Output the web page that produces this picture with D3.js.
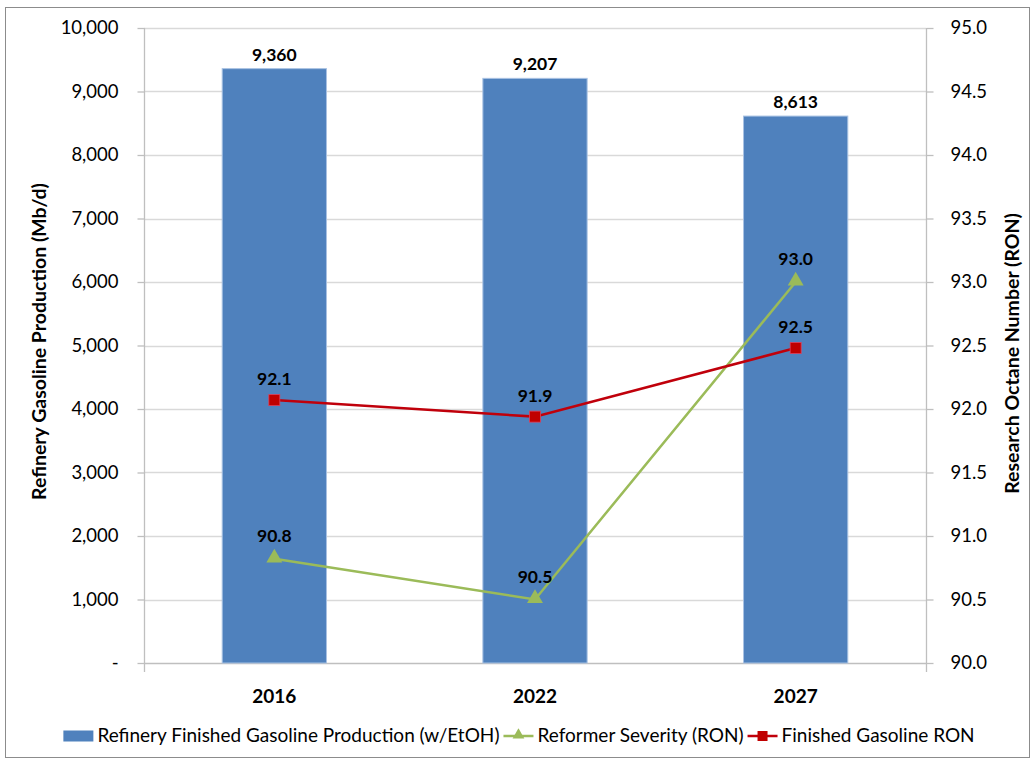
<!DOCTYPE html>
<html>
<head>
<meta charset="utf-8">
<script src="https://cdn.jsdelivr.net/npm/d3@7"></script>
<style>
  body { margin: 0; background: #fff; }
  svg text { font-family: Lato, "Open Sans", sans-serif; fill: #000; }
</style>
</head>
<body>
<div id="chart"></div>
<script>
// data
var years = ["2016", "2022", "2027"];
var production = [9360, 9207, 8613];          // Mb/d, bars (left axis)
var reformerRON = [90.82, 90.50, 93.00];      // green line (right axis)
var finishedRON = [92.07, 91.94, 92.48];      // red line (right axis)
var leftTicks = [0, 1000, 2000, 3000, 4000, 5000, 6000, 7000, 8000, 9000, 10000];
var rightTicks = [90, 90.5, 91, 91.5, 92, 92.5, 93, 93.5, 94, 94.5, 95];
var legendNames = ["Refinery Finished Gasoline Production (w/EtOH)", "Reformer Severity (RON)", "Finished Gasoline RON"];

var W = 1033, H = 762;
var plot = {left: 144, right: 926, top: 28, bottom: 663};

var svg = d3.select("#chart").append("svg").attr("width", W).attr("height", H)

// outer frame
svg.append("rect").attr("x", 5.5).attr("y", 7.5).attr("width", 1024).attr("height", 750)
    .attr("fill", "#fff").attr("stroke", "#8c8c8c").attr("stroke-width", 1)

var x = d3.scaleBand().domain(years).range([plot.left, plot.right]).padding(0)
var yL = d3.scaleLinear().domain([0, 10000]).range([plot.bottom, plot.top])
var yR = d3.scaleLinear().domain([90, 95]).range([plot.bottom, plot.top])

var fmt = d3.format(",")

// gridlines
svg.append("g").selectAll("line").data(leftTicks.slice(1)).enter().append("line")
    .attr("x1", plot.left).attr("x2", plot.right)
    .attr("y1", d => Math.round(yL(d)) + 0.5).attr("y2", d => Math.round(yL(d)) + 0.5)
    .attr("stroke", "#d9d9d9").attr("stroke-width", 1.3)

// left axis
var axL = svg.append("g").attr("transform", "translate(" + (plot.left + 0.5) + ",0)")
    .call(d3.axisLeft(yL).tickValues(leftTicks).tickSize(7).tickPadding(19)
        .tickFormat(d => d === 0 ? "-" : fmt(d)))
axL.selectAll("path, line").attr("stroke", "#bfbfbf").attr("stroke-width", 1.3)
axL.selectAll("text").style("font-size", "18.5px").attr("fill", "#000")
axL.select(".domain").attr("d", "M0," + (plot.top) + "V" + (plot.bottom + 9))

// right axis
var axR = svg.append("g").attr("transform", "translate(" + (plot.right + 0.5) + ",0)")
    .call(d3.axisRight(yR).tickValues(rightTicks).tickSize(7).tickPadding(17)
        .tickFormat(d3.format(".1f")))
axR.selectAll("path, line").attr("stroke", "#bfbfbf").attr("stroke-width", 1.3)
axR.selectAll("text").style("font-size", "18.5px").attr("fill", "#000")
axR.select(".domain").attr("d", "M0," + (plot.top) + "V" + (plot.bottom + 9))

// bottom axis line
svg.append("line").attr("x1", plot.left).attr("x2", plot.right)
    .attr("y1", plot.bottom + 0.5).attr("y2", plot.bottom + 0.5)
    .attr("stroke", "#bfbfbf").attr("stroke-width", 1.3)

// bars
var barW = x.bandwidth() * 0.4
svg.append("g").selectAll("rect").data(production).enter().append("rect")
    .attr("x", (d, i) => x(years[i]) + x.bandwidth() / 2 - barW / 2)
    .attr("y", d => yL(d))
    .attr("width", barW)
    .attr("height", d => yL(0) - yL(d))
    .attr("fill", "#4f81bd").attr("stroke", "#a9c2e3").attr("stroke-width", 1)

svg.append("g").selectAll("text").data(production).enter().append("text")
    .attr("x", (d, i) => x(years[i]) + x.bandwidth() / 2)
    .attr("y", d => yL(d) - 8)
    .attr("text-anchor", "middle").style("font-size", "17.5px").style("font-weight", "bold")
    .text(d => fmt(d))

// category labels
svg.append("g").selectAll("text").data(years).enter().append("text")
    .attr("x", d => x(d) + x.bandwidth() / 2).attr("y", 703)
    .attr("text-anchor", "middle").style("font-size", "19px").style("font-weight", "bold")
    .text(d => d)

// lines
var cx = (d, i) => x(years[i]) + x.bandwidth() / 2
var line = d3.line().x(cx).y(d => yR(d))

svg.append("path").datum(reformerRON).attr("d", line)
    .attr("fill", "none").attr("stroke", "#9bbb59").attr("stroke-width", 2.5)
svg.append("path").datum(finishedRON).attr("d", line)
    .attr("fill", "none").attr("stroke", "#c0000b").attr("stroke-width", 2.5)

var tri = d3.symbol().type(d3.symbolTriangle).size(110)
svg.append("g").selectAll("path").data(reformerRON).enter().append("path")
    .attr("d", tri)
    .attr("transform", (d, i) => "translate(" + cx(d, i) + "," + (yR(d) - 1) + ")")
    .attr("fill", "#9bbb59")
svg.append("g").selectAll("rect").data(finishedRON).enter().append("rect")
    .attr("x", (d, i) => cx(d, i) - 5.5).attr("y", d => yR(d) - 5.5)
    .attr("width", 11).attr("height", 11)
    .attr("fill", "#c00000").attr("stroke", "#e0405a").attr("stroke-width", 0.8)

svg.append("g").selectAll("text").data(reformerRON).enter().append("text")
    .attr("x", cx).attr("y", d => yR(d) - 17)
    .attr("text-anchor", "middle").style("font-size", "17.5px").style("font-weight", "bold")
    .text(d => d.toFixed(1))
svg.append("g").selectAll("text").data(finishedRON).enter().append("text")
    .attr("x", cx).attr("y", d => yR(d) - 15)
    .attr("text-anchor", "middle").style("font-size", "17.5px").style("font-weight", "bold")
    .text(d => d.toFixed(1))

// axis titles
svg.append("text").attr("transform", "translate(46," + ((plot.top + plot.bottom) / 2 - 4) + ") rotate(-90)")
    .attr("text-anchor", "middle").style("font-size", "19.5px").style("font-weight", "bold")
    .text("Refinery Gasoline Production (Mb/d)")
svg.append("text").attr("transform", "translate(1019," + ((plot.top + plot.bottom) / 2 + 8) + ") rotate(-90)")
    .attr("text-anchor", "middle").style("font-size", "19.5px").style("font-weight", "bold")
    .text("Research Octane Number (RON)")

// legend
var lg = svg.append("g")
var lx = 0, ly = 736
var items = lg.selectAll("g").data(legendNames).enter().append("g")
items.each(function(name, i) {
    var g = d3.select(this)
    if (i === 0) {
        g.append("rect").attr("x", lx).attr("y", ly - 5.5).attr("width", 30).attr("height", 11).attr("fill", "#4f81bd")
    } else {
        var col = i === 1 ? "#9bbb59" : "#c0000b"
        g.append("line").attr("x1", lx).attr("x2", lx + 30).attr("y1", ly).attr("y2", ly)
            .attr("stroke", col).attr("stroke-width", 2.5)
        if (i === 1) {
            g.append("path").attr("d", d3.symbol().type(d3.symbolTriangle).size(60))
                .attr("transform", "translate(" + (lx + 15) + "," + (ly - 1) + ")").attr("fill", col)
        } else {
            g.append("rect").attr("x", lx + 10).attr("y", ly - 5).attr("width", 10).attr("height", 10).attr("fill", "#c00000")
        }
    }
    var t = g.append("text").attr("x", lx + 34).attr("y", ly + 6).style("font-size", "19px").text(name)
    lx = lx + 34 + t.node().getComputedTextLength() + 4
})
lg.attr("transform", "translate(" + (521 - lx / 2) + ",0)")
</script>
</body>
</html>
